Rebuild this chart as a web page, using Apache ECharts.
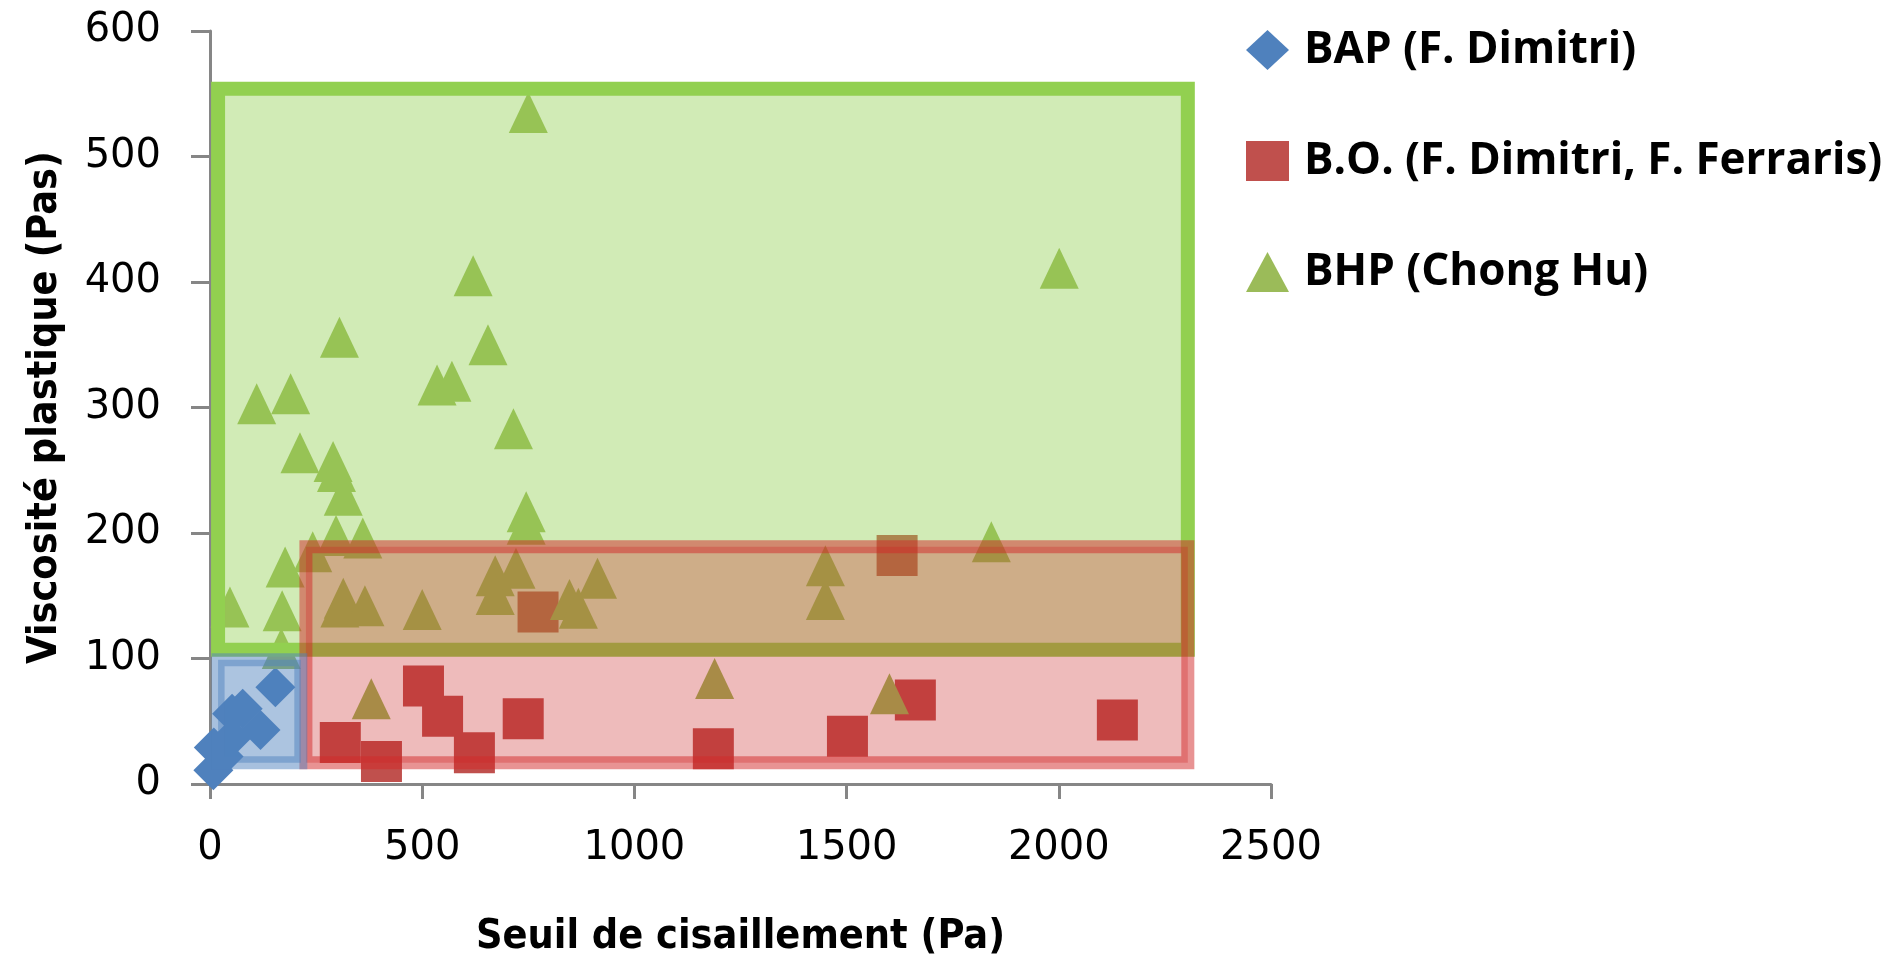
<!DOCTYPE html>
<html>
<head>
<meta charset="utf-8">
<title>Viscosité plastique vs seuil de cisaillement</title>
<script src="https://cdn.jsdelivr.net/npm/echarts@6/dist/echarts.min.js"></script>
<style>
  html, body { margin: 0; padding: 0; background: #fff; }
  #chart { width: 1901px; height: 967px; }
</style>
</head>
<body>
<div id="chart"></div>
<script>
// series names (legend)
const seriesNames = ["BAP (F. Dimitri)", "B.O. (F. Dimitri, F. Ferraris)", "BHP (Chong Hu)"];

// [seuil de cisaillement (Pa), viscosité plastique (Pas)]
const bapPoints = [
  [8, 11], [9, 29], [32, 22], [52, 37], [52, 56], [77, 60], [119, 43], [154, 77]
];
const boPoints = [
  [307, 33], [404, 18], [503, 78], [548, 54], [623, 25], [738, 52],
  [773, 137], [1186, 28], [1502, 38], [1619, 182], [1662, 67], [2138, 51]
];
const bhpPoints = [
  [750, 535], [620, 405], [305, 356], [655, 350], [535, 318], [570, 321],
  [110, 303], [190, 311], [715, 283], [212, 264], [290, 257], [298, 249],
  [314, 230], [297, 198], [360, 196], [242, 185], [177, 173], [47, 141],
  [170, 138], [168, 108], [314, 148], [306, 141], [365, 142], [500, 139],
  [721, 172], [672, 166], [672, 151], [380, 68], [745, 217], [745, 207],
  [913, 164], [847, 147], [868, 140], [1450, 174], [1450, 147], [1189, 84],
  [1601, 72], [1841, 193], [2001, 411]
];

// domain boxes: [xMin, yMin, xMax, yMax] in axis units
const zoneBhp = [19, 107, 2304, 554];
const zoneBo = [226, 17, 2304, 189];
const zoneBap = [19, 17, 214, 99];

const xTicks = { min: 0, max: 2500, step: 500 };
const yTicks = { min: 0, max: 600, step: 100 };

const boxStyles = [
  { fill: "rgba(146, 208, 80, 0.42)", stroke: "#92d050", lineWidth: 14 },
  { fill: "rgba(200, 30, 30, 0.3)", stroke: "rgba(210, 40, 40, 0.5)", lineWidth: 13 },
  { fill: "rgba(79, 129, 189, 0.47)", stroke: "rgba(79, 129, 189, 0.5)", lineWidth: 13 },
];

const chart = echarts.init(document.getElementById("chart"));

const axisLineStyle = { color: "#868686", width: 3 };
const tickFont = {
  color: "#000",
  fontFamily: "DejaVu Sans, Verdana, sans-serif",
  fontSize: 40,
  lineHeight: 40,
  formatter: (v) => String(v),
};
const titleFont = {
  color: "#000",
  fontFamily: "'DejaVu Sans Condensed', 'Liberation Sans', sans-serif",
  fontWeight: "bold",
  fontSize: 41,
  lineHeight: 50,
};

const option = {
  animation: false,
  backgroundColor: "#fff",
  grid: {
    left: 210,
    right: 630,
    top: 31,
    bottom: 172,
    containLabel: false,
  },
  legend: {
    data: seriesNames,
    orient: "vertical",
    left: 1241,
    top: 20,
    itemWidth: 43,
    itemHeight: 40,
    itemGap: 61,
    textStyle: {
      color: "#000",
      fontFamily: "'Open Sans', sans-serif",
      fontWeight: "bold",
      fontSize: 44,
      lineHeight: 50,
      padding: [0, 0, 0, 10],
    },
  },
  xAxis: {
    type: "value",
    min: xTicks.min,
    max: xTicks.max,
    interval: xTicks.step,
    name: "Seuil de cisaillement (Pa)",
    nameLocation: "middle",
    nameGap: 128,
    nameTextStyle: titleFont,
    axisLine: { show: true, lineStyle: axisLineStyle },
    axisTick: { show: true, length: 15, lineStyle: axisLineStyle },
    axisLabel: { margin: 45, ...tickFont },
    splitLine: { show: false },
  },
  yAxis: {
    type: "value",
    min: yTicks.min,
    max: yTicks.max,
    interval: yTicks.step,
    name: "Viscosité plastique (Pas)",
    nameLocation: "middle",
    nameGap: 140,
    nameTextStyle: titleFont,
    axisLine: { show: true, lineStyle: axisLineStyle },
    axisTick: { show: true, length: 19, lineStyle: axisLineStyle },
    axisLabel: { margin: 49, ...tickFont },
    splitLine: { show: false },
  },
  series: [
    {
      name: seriesNames[0],
      type: "scatter",
      symbol: "diamond",
      symbolSize: [40, 40],
      data: bapPoints,
      itemStyle: { color: "#4f81bd", opacity: 1 },
      z: 2,
    },
    {
      name: seriesNames[1],
      type: "scatter",
      symbol: "rect",
      symbolSize: [41, 41],
      data: boPoints,
      itemStyle: { color: "#c0504d", opacity: 1 },
      z: 2,
    },
    {
      name: seriesNames[2],
      type: "scatter",
      symbol: "triangle",
      symbolSize: [39, 41],
      data: bhpPoints,
      itemStyle: { color: "#9bbb59", opacity: 1 },
      z: 2,
    },
    {
      // semi-transparent domain boxes drawn over the markers
      type: "custom",
      silent: true,
      z: 5,
      encode: { x: [0, 2], y: [1, 3] },
      data: [zoneBhp, zoneBo, zoneBap],
      renderItem: (params, api) => {
        const topLeft = api.coord([api.value(0), api.value(3)]);
        const bottomRight = api.coord([api.value(2), api.value(1)]);
        const s = boxStyles[params.dataIndex];
        return {
          type: "rect",
          shape: {
            x: topLeft[0],
            y: topLeft[1],
            width: bottomRight[0] - topLeft[0],
            height: bottomRight[1] - topLeft[1],
          },
          style: { fill: s.fill, stroke: s.stroke, lineWidth: s.lineWidth },
        };
      },
    },
  ],
};

chart.setOption(option);
</script>
</body>
</html>
